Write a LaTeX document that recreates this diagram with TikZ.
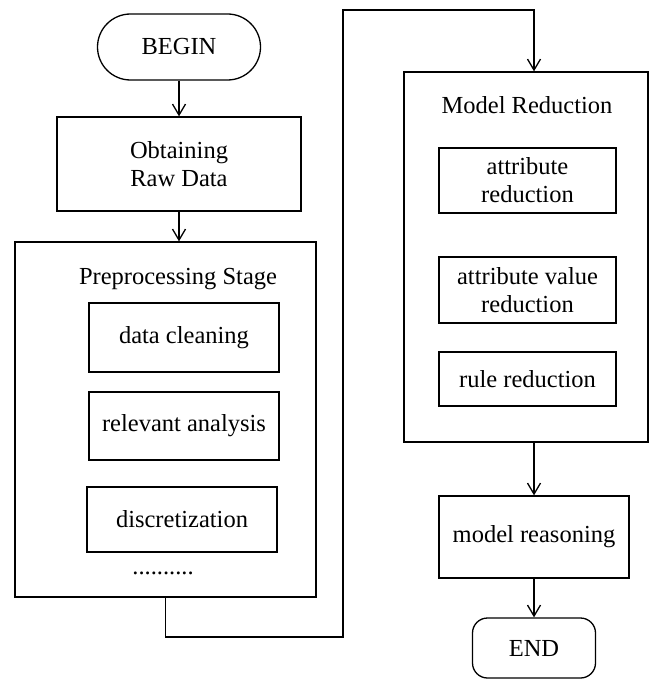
\documentclass[tikz,border=0pt]{standalone}
\usepackage{fontspec}
\setmainfont{Liberation Serif}
\usetikzlibrary{arrows.meta}
\begin{document}
\begin{tikzpicture}[x=1pt,y=-1pt,
  every node/.style={font=\fontsize{24.5}{28}\selectfont, inner sep=0pt, align=center},
  box/.style={draw, line width=1.3pt, minimum width=#1},
  arr/.style={line width=1.3pt, -{Straight Barb[length=11pt,width=13pt,line width=1.3pt]}},
  ln/.style={line width=1.3pt}
]
\useasboundingbox (0,0) rectangle (651,682);
% left column
\node[box=163pt, minimum height=66pt, rounded corners=33pt] (begin) at (179,47) {BEGIN};
\node[box=244pt, minimum height=94pt] (obtain) at (179,164) {Obtaining\\Raw Data};
\node[box=301pt, minimum height=355pt] (prep) at (165.5,419.5) {};
\node (preptitle) at (178,279) {Preprocessing Stage};
\node[box=190pt, minimum height=69pt] (dc) at (184,337.5) {data cleaning};
\node[box=190pt, minimum height=68pt] (ra) at (184,426) {relevant analysis};
\node[box=190pt, minimum height=65pt] (disc) at (182,519.5) {discretization};
\node (dots) at (163,573) {..........};
% right column
\node[box=244pt, minimum height=370pt] (mr) at (526,257) {};
\node (mrtitle) at (527,105) {Model Reduction};
\node[box=177pt, minimum height=65pt] (ar) at (527.5,180.5) {attribute\\reduction};
\node[box=177pt, minimum height=66pt] (avr) at (527.5,290) {attribute value\\reduction};
\node[box=177pt, minimum height=54pt] (rr) at (527.5,379) {rule reduction};
\node[box=190pt, minimum height=82pt] (reason) at (534,537) {model reasoning};
\node[box=123pt, minimum height=60pt, rounded corners=15pt] (end) at (534,648) {END};
% connectors
\coordinate (c1) at (343,637);
\coordinate (c2) at (343,10);
\draw[arr] (begin) -- (obtain);
\draw[arr] (obtain.south) -- (obtain.south |- prep.north);
\draw[arr] (prep.south) |- (c1) -- (c2) -| (reason.north |- mr.north);
\draw[arr] (reason.north |- mr.south) -- (reason.north);
\draw[arr] (reason) -- (end);
\end{tikzpicture}
\end{document}
